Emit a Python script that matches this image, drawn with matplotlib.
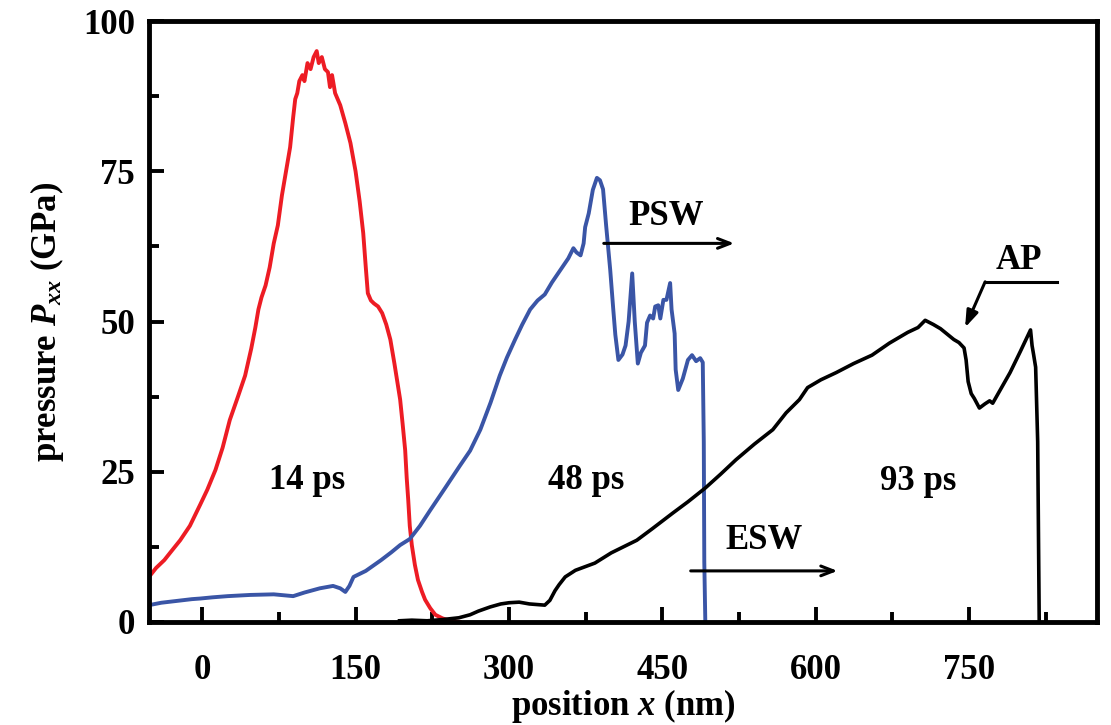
import matplotlib
matplotlib.use('Agg')
import matplotlib.pyplot as plt
from matplotlib.ticker import MultipleLocator

plt.rcParams['font.family'] = ['Liberation Serif', 'DejaVu Serif']
plt.rcParams['font.weight'] = 'bold'
plt.rcParams['mathtext.fontset'] = 'custom'
plt.rcParams['mathtext.rm'] = 'Liberation Serif:bold'
plt.rcParams['mathtext.it'] = 'Liberation Serif:italic:bold'
plt.rcParams['mathtext.bf'] = 'Liberation Serif:bold'

# Data: position x (nm), pressure Pxx (GPa)
x_14 = [-52, -45, -37, -30, -21.5, -12, -2, 5, 13, 20, 27, 35, 42, 48, 52, 55, 58, 62,
        66, 70, 74, 78, 82, 86, 89, 91, 93, 95, 98, 100, 103, 106, 109, 112, 114, 117,
        120, 123, 125, 127, 130, 135, 140, 145, 150, 154, 157.5, 160, 162, 165, 168,
        172, 176, 180, 184, 188, 193.6, 196, 198.5, 200, 201.5, 203, 205, 208, 211,
        215, 218, 223, 228, 235, 242.5, 252]
p_14 = [7.5, 9.0, 10.3, 11.8, 13.6, 16, 19.5, 22, 25.3, 29, 33.6, 37.5, 41, 45.5, 49, 52,
        54, 56, 59, 63, 66, 71, 75, 79, 84, 87, 88, 90, 91, 90, 93, 92, 94, 95, 93, 94,
        92, 91.5, 89, 91, 88, 86, 83, 79.7, 75, 70, 64.7, 59, 54.7, 53.5, 53, 52.5,
        51.4, 49.5, 47, 43, 37, 33, 28.6, 24, 20.3, 16, 12.8, 9.5, 7, 5, 3.7, 2.3,
        1.2, 0.6, 0.2, 0.0]

x_48 = [-52, -40, -25, -10, -2, 10, 25, 47, 70, 89, 100, 115, 128, 135, 140, 144, 148,
        160, 175, 185, 193.6, 203, 213, 223, 238, 252, 262, 272, 282, 291, 298, 306,
        313, 320.7, 328, 335, 342, 350, 358, 363, 366, 370, 373, 374.5, 378, 382, 386,
        389, 392, 395, 399, 402, 404, 407, 411, 414, 417, 420.5, 423, 426, 429, 433,
        435, 438, 441, 443, 446, 448, 451, 454, 457.6, 459, 462, 463, 465.5, 470, 475,
        479, 483, 487, 489.5, 490.5, 491, 492]
p_48 = [2.8, 3.2, 3.5, 3.8, 3.9, 4.1, 4.3, 4.5, 4.6, 4.3, 4.9, 5.6, 6, 5.6, 5.0, 6, 7.5,
        8.5, 10.3, 11.6, 12.8, 13.8, 16, 18.6, 22.4, 26, 28.5, 32, 36.5, 41, 44, 47,
        49.5, 52, 53.5, 54.5, 56.5, 58.5, 60.5, 62.2, 61.5, 61, 63, 65.7, 68, 71.9,
        73.9, 73.5, 72, 66, 58.6, 52, 47.8, 43.6, 44.5, 46, 50, 58, 50, 43, 44.8, 46,
        49.8, 51, 50.5, 52.5, 52.7, 50.5, 53.6, 53.6, 56.4, 52, 48, 42, 38.6, 40.5,
        43.6, 44.4, 43.4, 43.9, 43.2, 30, 10, 0]

x_93 = [193, 205, 220, 235, 251, 262, 270, 281.6, 292, 300, 310, 320, 335, 340, 345,
        349, 355, 365, 384, 400, 425, 440, 460, 475, 492, 507, 522, 540, 558, 571, 584,
        592, 605, 620, 637, 655, 672, 690, 700, 707, 715, 722, 735, 740, 745, 747,
        749, 752, 755, 760, 765.5, 770, 773, 780, 790, 800, 810, 811.5, 813, 815,
        817, 818.5]
p_93 = [0.2, 0.3, 0.2, 0.4, 0.7, 1.2, 1.8, 2.5, 3.0, 3.2, 3.3, 3.0, 2.8, 3.6, 5.2,
        6.2, 7.5, 8.6, 9.8, 11.5, 13.6, 15.5, 18.1, 20.0, 22.3, 24.6, 27, 29.6, 32,
        34.8, 37, 39, 40.3, 41.5, 43, 44.4, 46.4, 48.2, 49.0, 50.2, 49.5, 48.8, 47,
        46.5, 45.6, 43.6, 40, 38, 37.2, 35.6, 36.3, 36.8, 36.4, 38.5, 41.5, 45, 48.6,
        46, 44.5, 42.4, 30, 0]

time_labels = ['14 ps', '48 ps', '93 ps']
time_x = [102.6, 375.6, 700]
time_y = [23.6, 23.6, 23.3]

fig = plt.figure(figsize=(11.11, 7.25), dpi=100)
ax = fig.add_axes([0.1341, 0.1421, 0.8533, 0.8289])

ax.plot(x_14, p_14, color='#ED1C24', lw=2.8)
ax.plot(x_48, p_48, color='#3A55A6', lw=2.8)
ax.plot(x_93, p_93, color='black', lw=2.6)

for lab, tx, ty in zip(time_labels, time_x, time_y):
    ax.text(tx, ty, lab, fontsize=25, fontweight='bold', ha='center', va='center')

# shock wave annotations
ax.text(454, 67.4, 'PSW', fontsize=25, fontweight='bold', ha='center', va='center')
ax.annotate('', xy=(523, 63), xytext=(390, 63),
            arrowprops=dict(arrowstyle='->,head_length=0.9,head_width=0.35', lw=2.2, color='black'))
ax.text(549, 13.6, 'ESW', fontsize=25, fontweight='bold', ha='center', va='center')
ax.annotate('', xy=(624, 8.5), xytext=(475, 8.5),
            arrowprops=dict(arrowstyle='->,head_length=0.9,head_width=0.35', lw=2.2, color='black'))
ax.text(799, 60.2, 'AP', fontsize=25, fontweight='bold', ha='center', va='center')
ax.plot([765.6, 836], [56.6, 56.6], color='black', lw=2.2)
ax.annotate('', xy=(746, 49), xytext=(765.6, 56.6),
            arrowprops=dict(arrowstyle='-|>,head_length=1.0,head_width=0.35', lw=2.2, color='black',
                            shrinkA=0, shrinkB=0))

ax.set_xlim(-52, 875)
ax.set_ylim(0, 100)
ax.xaxis.set_major_locator(MultipleLocator(150))
ax.xaxis.set_minor_locator(MultipleLocator(75))
ax.yaxis.set_major_locator(MultipleLocator(25))
ax.yaxis.set_minor_locator(MultipleLocator(12.5))
ax.tick_params(which='both', direction='in', top=False, right=False, width=2.8, labelsize=25)
ax.tick_params(which='major', length=11)
ax.tick_params(which='minor', length=7)
ax.tick_params(axis='x', pad=23)
ax.tick_params(axis='y', pad=10)
for s in ax.spines.values():
    s.set_linewidth(3.5)

ax.set_xlabel(r'position $x$ (nm)', fontsize=25, fontweight='bold', labelpad=0)
ax.set_ylabel(r'pressure $P_{xx}$ (GPa)', fontsize=25, fontweight='bold', labelpad=12)

fig.savefig('out.png', dpi=100)
